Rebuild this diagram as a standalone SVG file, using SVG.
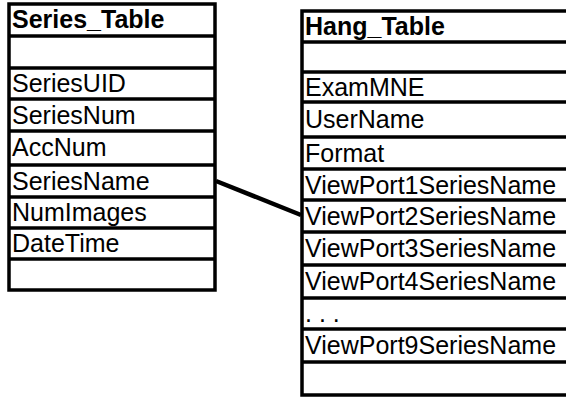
<svg xmlns="http://www.w3.org/2000/svg" width="566" height="400" viewBox="0 0 566 400">
  <style>
    .frame { fill: #ffffff; stroke: #000000; stroke-width: 3.5; }
    .sep { stroke: #000000; stroke-width: 3.5; }
    .field { font-family: "Liberation Sans", Arial, sans-serif; font-size: 25px; fill: #000000; }
    .title { font-family: "Liberation Sans", Arial, sans-serif; font-size: 25px; font-weight: bold; fill: #000000; }
    .link { stroke: #000000; stroke-width: 4.5; fill: none; }
  </style>
  <rect x="0" y="0" width="566" height="400" fill="#ffffff"/>

  <!-- Series table: 9 rows, 31.8 px pitch -->
  <g id="series_table">
    <rect class="frame" x="9" y="4" width="206" height="286"/>
    <line class="sep" x1="9" y1="36" x2="215" y2="36"/>
    <line class="sep" x1="9" y1="68" x2="215" y2="68"/>
    <line class="sep" x1="9" y1="99" x2="215" y2="99"/>
    <line class="sep" x1="9" y1="131" x2="215" y2="131"/>
    <line class="sep" x1="9" y1="165" x2="215" y2="165"/>
    <line class="sep" x1="9" y1="197" x2="215" y2="197"/>
    <line class="sep" x1="9" y1="228" x2="215" y2="228"/>
    <line class="sep" x1="9" y1="259" x2="215" y2="259"/>
    <text class="title" x="12" y="28">Series_Table</text>
    <text class="field" x="12" y="92">SeriesUID</text>
    <text class="field" x="12" y="124">SeriesNum</text>
    <text class="field" x="12" y="156">AccNum</text>
    <text class="field" x="12" y="190">SeriesName</text>
    <text class="field" x="12" y="221">NumImages</text>
    <text class="field" x="12" y="252">DateTime</text>
  </g>

  <!-- Hang table: 12 rows, runs off the right edge -->
  <g id="hang_table">
    <rect class="frame" x="302" y="11" width="290" height="384"/>
    <line class="sep" x1="302" y1="42" x2="592" y2="42"/>
    <line class="sep" x1="302" y1="72" x2="592" y2="72"/>
    <line class="sep" x1="302" y1="102" x2="592" y2="102"/>
    <line class="sep" x1="302" y1="137" x2="592" y2="137"/>
    <line class="sep" x1="302" y1="169" x2="592" y2="169"/>
    <line class="sep" x1="302" y1="200" x2="592" y2="200"/>
    <line class="sep" x1="302" y1="232" x2="592" y2="232"/>
    <line class="sep" x1="302" y1="265" x2="592" y2="265"/>
    <line class="sep" x1="302" y1="298" x2="592" y2="298"/>
    <line class="sep" x1="302" y1="329" x2="592" y2="329"/>
    <line class="sep" x1="302" y1="362" x2="592" y2="362"/>
    <text class="title" x="305" y="35">Hang_Table</text>
    <text class="field" x="305" y="96">ExamMNE</text>
    <text class="field" x="305" y="128">UserName</text>
    <text class="field" x="305" y="162">Format</text>
    <text class="field" x="305" y="194">ViewPort1SeriesName</text>
    <text class="field" x="305" y="225">ViewPort2SeriesName</text>
    <text class="field" x="305" y="257">ViewPort3SeriesName</text>
    <text class="field" x="305" y="290">ViewPort4SeriesName</text>
    <text class="field" x="305" y="322">. . .</text>
    <text class="field" x="305" y="354">ViewPort9SeriesName</text>
  </g>

  <!-- SeriesName -> ViewPort2SeriesName -->
  <g id="connectors">
    <line class="link" x1="216" y1="181" x2="301" y2="215"/>
  </g>
</svg>
